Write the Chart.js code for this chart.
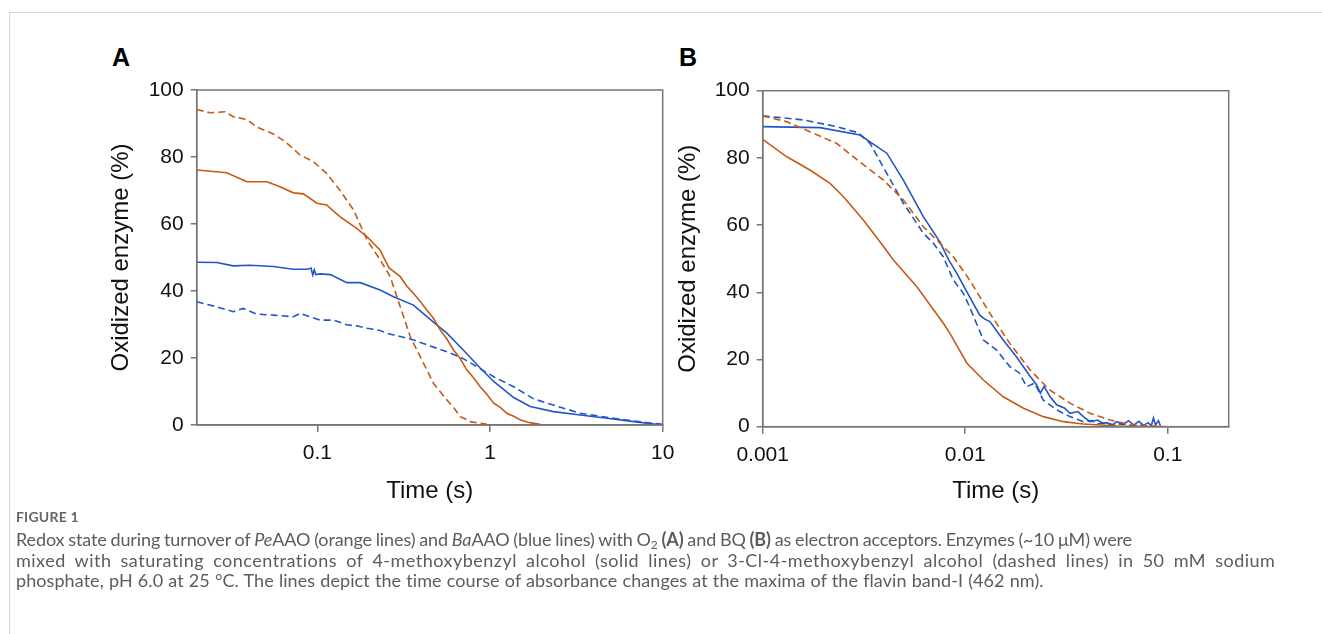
<!DOCTYPE html>
<html>
<head>
<meta charset="utf-8">
<script src="https://cdn.jsdelivr.net/npm/chart.js@4.4.1/dist/chart.umd.min.js"></script>
<style>
  html, body { margin: 0; padding: 0; background: #fff; }
  body { width: 1322px; height: 634px; position: relative; overflow: hidden; }
  .frame-top { position: absolute; left: 9px; top: 12px; width: 1313px; height: 1px; background: #d6d6d6; }
  .frame-left { position: absolute; left: 9px; top: 12px; width: 1px; height: 622px; background: #d6d6d6; }
  .panel { position: absolute; top: 0; }
  .letter { position: absolute; font: bold 25px/25px "Liberation Sans", Arial, sans-serif; color: #000; }
  .caption { position: absolute; left: 16px; top: 505px; font-family: Lato, "Open Sans", sans-serif; color: #5c5c5c; white-space: nowrap; }
  .caption .fig { font-size: 14px; font-weight: 700; color: #666; letter-spacing: 0.2px; line-height: 24px; }
  .caption .txt div { font-size: 18px; line-height: 20.5px; height: 20.5px; }
  .caption sub { font-size: 12px; line-height: 0; vertical-align: -3px; }
</style>
</head>
<body>
<div class="frame-top"></div>
<div class="frame-left"></div>
<div class="letter" style="left:112px; top:45px;">A</div>
<div class="letter" style="left:679px; top:45px;">B</div>
<canvas id="chartA" class="panel" style="left:0px;" width="690" height="520"></canvas>
<canvas id="chartB" class="panel" style="left:660px;" width="662" height="520"></canvas>
<div class="caption">
  <div class="fig">FIGURE 1</div>
  <div class="txt">
    <div data-w="1116"><span>Redox state during turnover of <i>Pe</i>AAO (orange lines) and <i>Ba</i>AAO (blue lines) with O<sub>2</sub> <b>(A)</b> and BQ <b>(B)</b> as electron acceptors. Enzymes (~10 μM) were</span></div>
    <div data-w="1260"><span>mixed with saturating concentrations of 4-methoxybenzyl alcohol (solid lines) or 3-Cl-4-methoxybenzyl alcohol (dashed lines) in 50 mM sodium</span></div>
    <div data-w="1028"><span>phosphate, pH 6.0 at 25 °C. The lines depict the time course of absorbance changes at the maxima of the flavin band-I (462 nm).</span></div>
  </div>
</div>
<script>
// Panel A (O2 as acceptor), time in s, oxidized enzyme in %
const A_PE_SOLID_T = [0.02, 0.0299, 0.039, 0.051, 0.0608, 0.0726, 0.083, 0.0993, 0.113, 0.135, 0.169, 0.194, 0.231, 0.245, 0.26, 0.28, 0.302, 0.33, 0.36, 0.39, 0.43, 0.47, 0.514, 0.56, 0.615, 0.67, 0.735, 0.8, 0.877, 0.96, 1.05, 1.15, 1.25, 1.37, 1.5, 1.7, 1.95];
const A_PE_SOLID   = [76.1, 75.3, 72.6, 72.6, 71.1, 69.3, 69.0, 66.2, 65.7, 62.2, 58.7, 56.2, 52.2, 49.5, 46.9, 45.6, 44.3, 41.4, 39.3, 37.2, 34.3, 31.9, 28.4, 25.8, 22.4, 19.9, 16.4, 14.2, 11.4, 9.1, 6.5, 5.2, 3.5, 2.6, 1.5, 0.7, 0.2];
const A_PE_DASH_T  = [0.02, 0.0239, 0.0292, 0.0326, 0.039, 0.0446, 0.0556, 0.065, 0.0794, 0.0949, 0.113, 0.135, 0.162, 0.194, 0.231, 0.264, 0.302, 0.345, 0.412, 0.471, 0.562, 0.62, 0.672, 0.72, 0.768, 0.85, 0.96];
const A_PE_DASH    = [94.2, 93.2, 93.5, 92.0, 91.2, 88.9, 86.9, 84.6, 80.6, 78.6, 75.1, 70.1, 64.2, 55.2, 49.3, 44.3, 35.3, 26.4, 18.4, 12.4, 7.5, 5.0, 2.5, 1.8, 1.0, 0.6, 0.2];
const A_BA_SOLID_T = [0.02, 0.0261, 0.0326, 0.0407, 0.0556, 0.0726, 0.0868, 0.092, 0.094, 0.096, 0.098, 0.104, 0.119, 0.148, 0.177, 0.231, 0.276, 0.36, 0.45, 0.562, 0.7, 0.877, 1.05, 1.37, 1.71, 2.33, 3.33, 4.77, 6.8, 10];
const A_BA_SOLID   = [48.6, 48.5, 47.5, 47.7, 47.3, 46.5, 46.5, 46.8, 44.8, 46.3, 44.9, 45.1, 44.9, 42.5, 42.5, 40.3, 38.3, 35.8, 31.5, 27.4, 22.4, 17.0, 13.0, 8.2, 5.5, 4.0, 3.0, 2.0, 1.0, 0];
const A_BA_DASH_T  = [0.02, 0.0261, 0.0326, 0.0372, 0.0446, 0.0556, 0.0726, 0.0794, 0.104, 0.124, 0.148, 0.169, 0.194, 0.231, 0.252, 0.302, 0.36, 0.45, 0.562, 0.7, 0.84, 1.05, 1.37, 1.79, 2.15, 3.33, 5.2, 8.1, 10];
const A_BA_DASH    = [36.8, 35.3, 33.8, 34.8, 33.1, 32.8, 32.3, 33.3, 31.3, 31.3, 29.9, 29.6, 28.9, 28.2, 27.4, 26.4, 25.4, 23.6, 21.9, 19.8, 17.4, 14.4, 11.4, 7.8, 6.5, 3.5, 2.0, 0.7, 0.2];

// Panel B (BQ as acceptor)
const B_PE_SOLID_T = [0.001, 0.00131, 0.00171, 0.00215, 0.0025, 0.00314, 0.00395, 0.00442, 0.00576, 0.0078, 0.0084, 0.0102, 0.0123, 0.0154, 0.0194, 0.0243, 0.0305, 0.0383, 0.056, 0.099];
const B_PE_SOLID   = [85.5, 80.4, 76.4, 72.4, 68.5, 61.5, 53.6, 49.6, 41.7, 30.8, 27.8, 18.9, 13.9, 8.9, 5.5, 3.0, 1.5, 0.8, 0.2, 0];
const B_PE_DASH_T  = [0.001, 0.00131, 0.00171, 0.00232, 0.003, 0.00395, 0.00495, 0.00621, 0.00723, 0.00873, 0.0105, 0.01325, 0.0166, 0.0209, 0.0262, 0.0329, 0.0413, 0.0519, 0.0651, 0.0817, 0.1];
const B_PE_DASH    = [92.5, 90.8, 87.8, 84.3, 78.9, 73.4, 67.5, 59.5, 55.6, 50.6, 43.7, 33.7, 24.8, 16.9, 10.9, 7.0, 4.0, 2.0, 0.6, 0.2, 0];
const B_BA_SOLID_T = [0.001, 0.00192, 0.00302, 0.0041, 0.00495, 0.00621, 0.0075, 0.0083, 0.00908, 0.01, 0.0118, 0.0125, 0.01325, 0.0154, 0.0179, 0.0209, 0.0225, 0.0235, 0.0245, 0.0262, 0.0283, 0.031, 0.0329, 0.036, 0.0383, 0.0413, 0.045, 0.0481, 0.05, 0.053, 0.056, 0.06, 0.064, 0.068, 0.072, 0.076, 0.08, 0.083, 0.085, 0.087, 0.09, 0.092];
const B_BA_SOLID   = [89.3, 89.0, 86.8, 81.4, 73.4, 62.5, 55.0, 49.6, 45.7, 41.0, 33.2, 32.0, 31.3, 25.8, 20.8, 15.0, 12.5, 10.0, 12.0, 9.0, 6.5, 5.5, 4.0, 4.5, 3.0, 1.5, 2.0, 1.0, 1.2, 0.4, 1.5, 0.6, 1.8, 0.5, 1.6, 0.4, 1.2, 0.3, 2.6, 0.5, 1.8, 0.2];
const B_BA_DASH_T  = [0.001, 0.00159, 0.00232, 0.00296, 0.00339, 0.0041, 0.00495, 0.00621, 0.00696, 0.00779, 0.00873, 0.00979, 0.0105, 0.0123, 0.0143, 0.0166, 0.0185, 0.0201, 0.022, 0.0243, 0.0283, 0.0329, 0.0383, 0.042, 0.045, 0.05, 0.055, 0.06, 0.066, 0.072, 0.078];
const B_BA_DASH    = [92.5, 91.3, 89.3, 87.5, 84.3, 75.4, 66.5, 57.6, 54.6, 50.6, 43.7, 39.7, 35.7, 25.8, 22.8, 17.9, 16.0, 11.9, 13.0, 7.9, 5.0, 3.0, 1.5, 1.8, 0.8, 1.2, 0.4, 0.9, 0.3, 0.6, 0.2];

const Y_TICKS = [0, 20, 40, 60, 80, 100];
const A_X_TICKS = [0.1, 1, 10];
const B_X_TICKS = [0.001, 0.01, 0.1];

const ORANGE = '#C65A14';
const BLUE = '#2356C4';
const AXIS = '#767676';
const FONT = '"Liberation Sans", Arial, sans-serif';

function pts(ts, vs) { return ts.map((t, i) => ({ x: t, y: vs[i] })); }

function ds(ts, vs, color, dashed) {
  return {
    data: pts(ts, vs),
    borderColor: color,
    borderWidth: 1.6,
    borderDash: dashed ? [7, 4] : [],
    pointRadius: 0,
    fill: false,
    tension: 0
  };
}

// box around the plot area (top and right sides too)
const boxPlugin = {
  id: 'box',
  afterDatasetsDraw(chart) {
    const { ctx, chartArea: a } = chart;
    ctx.save();
    ctx.strokeStyle = AXIS;
    ctx.lineWidth = 1.5;
    ctx.strokeRect(a.left, a.top, a.right - a.left, a.bottom - a.top);
    ctx.restore();
  }
};

function makeChart(id, datasets, xMin, xMax, xTicks, pad, yWidth, xHeight) {
  return new Chart(document.getElementById(id), {
    type: 'line',
    data: { datasets },
    plugins: [boxPlugin],
    options: {
      responsive: false,
      animation: false,
      devicePixelRatio: 1,
      layout: { padding: pad },
      plugins: { legend: { display: false }, tooltip: { enabled: false } },
      scales: {
        x: {
          type: 'logarithmic',
          min: xMin, max: xMax,
          afterBuildTicks: (s) => { s.ticks = xTicks.map(v => ({ value: v, major: true })); },
          afterFit: (s) => { s.height = xHeight; },
          grid: { drawOnChartArea: false, drawTicks: true, tickLength: 7, color: AXIS, lineWidth: 1.5 },
          border: { display: true, color: AXIS, width: 1.5 },
          ticks: { color: '#111', font: { family: FONT, size: 21 }, padding: 9, maxRotation: 0, autoSkip: false,
                   callback: (v) => String(v) },
          title: { display: true, text: 'Time (s)', color: '#111', font: { family: FONT, size: 24 }, padding: { top: 8 } }
        },
        y: {
          min: 0, max: 100,
          afterBuildTicks: (s) => { s.ticks = Y_TICKS.map(v => ({ value: v })); },
          afterFit: (s) => { s.width = yWidth; },
          grid: { drawOnChartArea: false, drawTicks: true, tickLength: 6, color: AXIS, lineWidth: 1.5 },
          border: { display: true, color: AXIS, width: 1.5 },
          ticks: { color: '#111', font: { family: FONT, size: 21 }, padding: 7 },
          title: { display: true, text: 'Oxidized enzyme (%)', color: '#111', font: { family: FONT, size: 24 }, padding: { top: 3 } }
        }
      }
    }
  });
}

makeChart('chartA', [
  ds(A_PE_DASH_T, A_PE_DASH, ORANGE, true),
  ds(A_PE_SOLID_T, A_PE_SOLID, ORANGE, false),
  ds(A_BA_DASH_T, A_BA_DASH, BLUE, true),
  ds(A_BA_SOLID_T, A_BA_SOLID, BLUE, false)
], 0.02, 10, A_X_TICKS, { left: 104, top: 90, right: 27.3, bottom: 10 }, 92.7, 85);

makeChart('chartB', [
  ds(B_PE_DASH_T, B_PE_DASH, ORANGE, true),
  ds(B_PE_SOLID_T, B_PE_SOLID, ORANGE, false),
  ds(B_BA_DASH_T, B_BA_DASH, BLUE, true),
  ds(B_BA_SOLID_T, B_BA_SOLID, BLUE, false)
], 0.001, 0.2, B_X_TICKS, { left: 11, top: 90.7, right: 93.3, bottom: 10 }, 91.7, 83.3);

// stretch each caption line to the width it has in the figure,
// half through word gaps and half through letter gaps
document.querySelectorAll('.caption .txt > div').forEach((line) => {
  const span = line.querySelector('span');
  const target = Number(line.dataset.w);
  const text = span.textContent;
  const spaces = (text.match(/ /g) || []).length;
  const diff = target - span.getBoundingClientRect().width;
  span.style.wordSpacing = (diff * 0.5 / spaces).toFixed(3) + 'px';
  span.style.letterSpacing = (diff * 0.5 / text.length).toFixed(3) + 'px';
});
</script>
</body>
</html>
